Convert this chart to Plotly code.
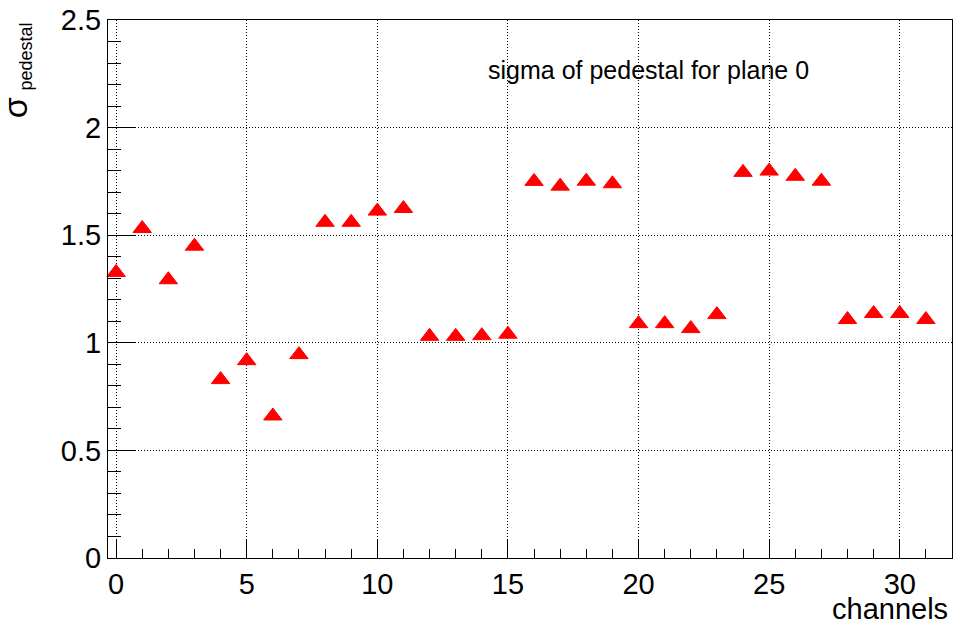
import plotly.graph_objects as go

channels = list(range(32))
sigma = [1.327, 1.531, 1.293, 1.449, 0.829, 0.917, 0.660, 0.945,
         1.560, 1.560, 1.612, 1.624, 1.030, 1.030, 1.033, 1.040,
         1.750, 1.728, 1.751, 1.739, 1.089, 1.089, 1.066, 1.131,
         1.792, 1.798, 1.774, 1.751, 1.108, 1.136, 1.136, 1.108]

x_ticks = [0, 5, 10, 15, 20, 25, 30]
y_ticks = [0, 0.5, 1, 1.5, 2, 2.5]
y_tick_text = ["0", "0.5", "1", "1.5", "2", "2.5"]

W, H = 955, 624
L, R, T, B = 108, 3, 20, 66
pw, ph = W - L - R, H - T - B

def px_x(p):
    return (p - L) / pw

def px_y(p):
    return (H - B - p) / ph

font_family = "Liberation Sans, Arial, Helvetica, sans-serif"

fig = go.Figure()
fig.add_trace(go.Scatter(
    x=channels, y=sigma, mode="markers",
    marker=dict(symbol="triangle-up", size=16, color="#ff0000",
                line=dict(color="#ff0000", width=1)),
    showlegend=False, cliponaxis=False,
))

axis_common = dict(
    showline=True, linecolor="#000000", linewidth=1, mirror=True,
    showgrid=True, gridcolor="#000000", gridwidth=1, griddash="1px,2px",
    zeroline=False, ticks="inside", tickcolor="#000000", tickwidth=1,
    tickfont=dict(family=font_family, size=29, color="#000000"),
)

fig.update_xaxes(
    range=[-0.31, 32.0], tickmode="array", tickvals=x_ticks,
    ticktext=[str(v) for v in x_ticks], ticklen=18,
    minor=dict(dtick=1, tick0=0, ticklen=9, ticks="inside",
               tickcolor="#000000", tickwidth=1, showgrid=False),
    **axis_common,
)
fig.update_yaxes(
    range=[0, 2.5], tickmode="array", tickvals=y_ticks,
    ticktext=y_tick_text, ticklen=27,
    minor=dict(dtick=0.1, tick0=0, ticklen=13, ticks="inside",
               tickcolor="#000000", tickwidth=1, showgrid=False),
    **axis_common,
)

fig.add_annotation(
    text="sigma of pedestal for plane 0", xref="paper", yref="paper",
    x=px_x(648), y=px_y(70), xanchor="center", yanchor="middle",
    showarrow=False, font=dict(family=font_family, size=25, color="#000000"),
)
fig.add_annotation(
    text="channels", xref="paper", yref="paper",
    x=px_x(950), y=px_y(609), xanchor="right", yanchor="middle",
    showarrow=False, font=dict(family=font_family, size=29, color="#000000"),
)
# y-axis title: sigma with subscript "pedestal"
fig.add_annotation(
    text="σ", xref="paper", yref="paper",
    x=px_x(14.7), y=px_y(107.5), xanchor="center", yanchor="middle",
    textangle=-90, showarrow=False,
    font=dict(family=font_family, size=34, color="#000000"),
)
fig.add_annotation(
    text="pedestal", xref="paper", yref="paper",
    x=px_x(26), y=px_y(56.5), xanchor="center", yanchor="middle",
    textangle=-90, showarrow=False,
    font=dict(family=font_family, size=18, color="#000000"),
)

fig.update_layout(
    width=W, height=H,
    margin=dict(l=L, r=R, t=T, b=B, pad=0),
    paper_bgcolor="#ffffff", plot_bgcolor="#ffffff",
)

fig.write_html("out.html")
